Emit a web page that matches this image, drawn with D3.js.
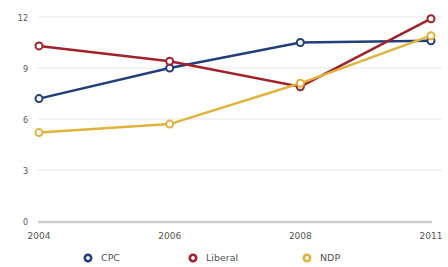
<!DOCTYPE html>
<html>
<head>
<meta charset="utf-8">
<script src="https://cdn.jsdelivr.net/npm/d3@7"></script>
<style>
  body { margin: 0; background: #fff; }
  svg { display: block; font-family: "DejaVu Sans", sans-serif; }
</style>
</head>
<body>
<div id="chart"></div>
<script>
const years = ['2004', '2006', '2008', '2011'];
const yTicks = [0, 3, 6, 9, 12];
const cpc = [7.2, 9.0, 10.5, 10.6];
const liberal = [10.3, 9.4, 7.9, 11.9];
const ndp = [5.2, 5.7, 8.1, 10.9];

const series = [
  { name: 'CPC', values: cpc, color: '#223f7c' },
  { name: 'Liberal', values: liberal, color: '#a3222a' },
  { name: 'NDP', values: ndp, color: '#e2b33c' },
];

const width = 448, height = 267;

const svg = d3.select('#chart')
  .append('svg')
  .attr('width', width)
  .attr('height', height);

const x = d3.scalePoint().domain(years).range([39, 431]);
const y = d3.scaleLinear().domain([0, 12]).range([221, 17]);

// gridlines
svg.append('g')
  .selectAll('line')
  .data(yTicks.filter(d => d > 0))
  .join('line')
  .attr('x1', 37).attr('x2', 442)
  .attr('y1', d => y(d)).attr('y2', d => y(d))
  .attr('stroke', '#efefef')
  .attr('stroke-width', 1.5);

// baseline
svg.append('line')
  .attr('x1', 38).attr('x2', 432)
  .attr('y1', y(0) + 1).attr('y2', y(0) + 1)
  .attr('stroke', '#cfcfcf')
  .attr('stroke-width', 2.5);

// y labels
svg.append('g')
  .selectAll('text')
  .data(yTicks)
  .join('text')
  .attr('x', 28)
  .attr('y', d => y(d) + 1)
  .attr('dy', '0.35em')
  .attr('text-anchor', 'end')
  .attr('font-size', '8px')
  .attr('fill', '#555')
  .text(d => d);

// x labels
svg.append('g')
  .selectAll('text')
  .data(years)
  .join('text')
  .attr('x', d => x(d))
  .attr('y', 236)
  .attr('dy', '0.35em')
  .attr('text-anchor', 'middle')
  .attr('font-size', '9px')
  .attr('fill', '#555')
  .text(d => d);

const line = d3.line()
  .x((d, i) => x(years[i]))
  .y(d => y(d));

series.forEach(s => {
  svg.append('path')
    .datum(s.values)
    .attr('d', line)
    .attr('fill', 'none')
    .attr('stroke', s.color)
    .attr('stroke-width', 2.5);
});

series.forEach(s => {
  svg.append('g')
    .selectAll('circle')
    .data(s.values)
    .join('circle')
    .attr('cx', (d, i) => x(years[i]))
    .attr('cy', d => y(d))
    .attr('r', 3.5)
    .attr('fill', '#fff')
    .attr('stroke', s.color)
    .attr('stroke-width', 2);
});

// legend
const legendPos = [88, 193, 307];
const legend = svg.append('g')
  .selectAll('g')
  .data(series)
  .join('g')
  .attr('transform', (d, i) => `translate(${legendPos[i]},258)`);

legend.append('circle')
  .attr('r', 3.2)
  .attr('fill', '#fff')
  .attr('stroke', d => d.color)
  .attr('stroke-width', 2.6);

legend.append('text')
  .attr('x', 13)
  .attr('dy', '0.35em')
  .attr('font-size', '9.5px')
  .attr('fill', '#555')
  .text(d => d.name);
</script>
</body>
</html>
